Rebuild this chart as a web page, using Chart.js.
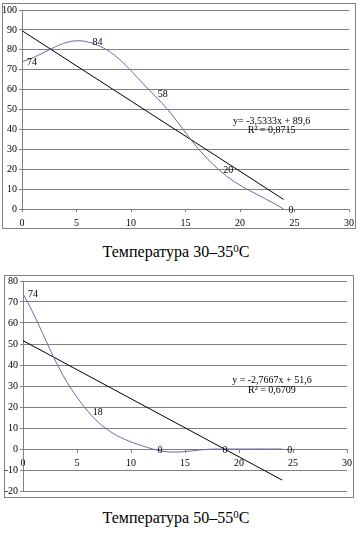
<!DOCTYPE html>
<html>
<head>
<meta charset="utf-8">
<script src="https://cdn.jsdelivr.net/npm/chart.js@4"></script>
<style>
  body { margin: 0; background: #fff; width: 358px; height: 537px; position: relative; overflow: hidden; }
  .frame { position: absolute; border: 1px solid #808080; box-sizing: border-box; }
  .frame canvas { display: block; }
  .title { position: absolute; left: 0; width: 352px; text-align: center; font-family: 'Liberation Serif', serif; font-size: 16px; color: #000; }
  .title sup { font-size: 11px; vertical-align: 5px; line-height: 0; }
</style>
</head>
<body>
<div class="frame" style="left:2px; top:3px; width:354px; height:226px;"><canvas id="chart-1"></canvas></div>
<div class="title" style="top:243px;">Температура 30–35<sup>0</sup>C</div>
<div class="frame" style="left:4px; top:275px; width:350px; height:223px;"><canvas id="chart-2"></canvas></div>
<div class="title" style="top:509px;">Температура 50–55<sup>0</sup>C</div>
<script>
// день наблюдения
var x_days = [0, 6, 12, 18, 24];
// значения при 30-35 C
var y_values_1 = [74, 84, 58, 20, 0];
// значения при 50-55 C
var y_values_2 = [74, 18, 0, 0, 0];
// линии тренда (из подписей на графике)
var trend_1 = { slope: -3.5333, intercept: 89.6, text: "y= -3,5333x + 89,6", r2: "R² = 0,8715" };
var trend_2 = { slope: -2.7667, intercept: 51.6, text: "y = -2,7667x + 51,6", r2: "R² = 0,6709" };

var FONT = 'Liberation Serif';

function makeChart(id, values, trend, opts) {
    var pts = [];
    for (let i = 0; i < x_days.length; i++) {
        pts.push({ x: x_days[i], y: values[i] });
    }
    var xLast = x_days[x_days.length - 1];
    var trendPts = [
        { x: 0, y: trend.intercept },
        { x: xLast, y: trend.intercept + trend.slope * xLast },
    ];

    var labelPlugin = {
        id: 'labels_' + id,
        afterDatasetsDraw(chart) {
            const ctx = chart.ctx;
            const meta = chart.getDatasetMeta(0);
            ctx.save();
            ctx.font = '10px "' + FONT + '"';
            ctx.fillStyle = '#000';
            ctx.textAlign = 'left';
            ctx.textBaseline = 'middle';
            meta.data.forEach(function(p, i) {
                ctx.fillText(String(values[i]), p.x + 5, p.y + 1);
            });
            // подпись тренда
            const xs = chart.scales.x, ys = chart.scales.y;
            ctx.textAlign = 'center';
            ctx.fillText(trend.text, xs.getPixelForValue(opts.eqX), ys.getPixelForValue(opts.eqY));
            ctx.fillText(trend.r2, xs.getPixelForValue(opts.eqX), ys.getPixelForValue(opts.r2Y));
            ctx.restore();
        }
    };

    var canvas = document.getElementById(id);
    canvas.width = opts.w;
    canvas.height = opts.h;
    return new Chart(canvas, {
        type: 'scatter',
        data: {
            datasets: [{
                data: pts,
                showLine: true,
                borderColor: '#6b6ba6',
                borderWidth: 1,
                tension: 0.4,
                pointRadius: 0,
            }, {
                data: trendPts,
                showLine: true,
                borderColor: '#000',
                borderWidth: 1,
                pointRadius: 0,
            }],
        },
        options: {
            responsive: false,
            animation: false,
            devicePixelRatio: 1,
            layout: { padding: opts.padding },
            plugins: {
                legend: { display: false },
                tooltip: { enabled: false },
            },
            scales: {
                x: {
                    type: 'linear',
                    position: opts.xPos,
                    min: 0,
                    max: 30,
                    afterFit: function(scale) {
                        if (opts.xHeight) scale.height = opts.xHeight;
                        scale.paddingLeft = 0;
                        scale.paddingRight = 0;
                    },
                    ticks: { stepSize: 5, color: '#000', font: { family: FONT, size: 10 }, padding: opts.xPad, maxRotation: 0 },
                    grid: { drawOnChartArea: false, drawTicks: true, tickLength: 3, color: '#808080' },
                    border: { color: '#808080' },
                },
                y: {
                    min: opts.yMin,
                    max: opts.yMax,
                    afterFit: function(scale) {
                        scale.width = opts.yWidth;
                        scale.paddingTop = 0;
                        scale.paddingBottom = 0;
                    },
                    ticks: { stepSize: 10, color: '#000', font: { family: FONT, size: 10 }, padding: 2 },
                    grid: { color: '#808080', tickLength: 3 },
                    border: { color: '#808080' },
                },
            },
        },
        plugins: [labelPlugin],
    });
}

makeChart('chart-1', y_values_1, trend_1, {
    w: 352, h: 224, yMin: 0, yMax: 100, xPos: 'bottom',
    padding: { top: 6, right: 6, left: 0, bottom: 0 },
    yWidth: 19, xHeight: 19, xPad: 5,
    eqX: 22.9, eqY: 43.9, r2Y: 39.7,
});

makeChart('chart-2', y_values_2, trend_2, {
    w: 348, h: 221, yMin: -20, yMax: 80, xPos: { y: 0 },
    padding: { top: 5, right: 6, left: 0, bottom: 6 },
    yWidth: 18, xHeight: 0, xPad: 5,
    eqX: 23.05, eqY: 32.9, r2Y: 28.1,
});
</script>
</body>
</html>
